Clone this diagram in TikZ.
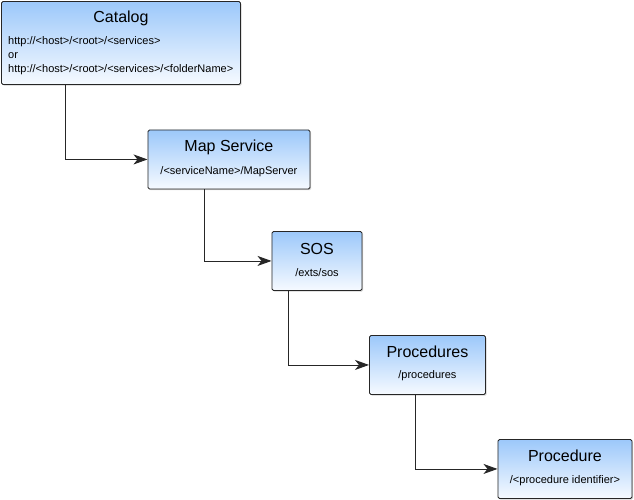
\documentclass[tikz,border=0pt]{standalone}
\usepackage{fontspec}
\setmainfont{Liberation Sans}
\usetikzlibrary{arrows.meta, shadows}
\definecolor{boxtop}{RGB}{156,200,250}
\definecolor{boxbottom}{RGB}{246,250,255}
\tikzset{
    resbox/.style={draw=black!85, line width=0.9pt, rounded corners=1.5pt,
        top color=boxtop, bottom color=boxbottom, anchor=north west,
        inner sep=0pt,
        drop shadow={shadow xshift=1.2pt, shadow yshift=-1.2pt,
            opacity=0.35}},
    restitle/.style={anchor=base, inner sep=0pt,
        font=\fontsize{16}{19}\selectfont},
    resurl/.style={anchor=base, inner sep=0pt,
        font=\fontsize{11}{14}\selectfont},
    hop/.style={draw=black!85, line width=0.9pt,
        -{Stealth[length=14pt, width=10pt, inset=4pt]}},
}

\begin{document}
\begin{tikzpicture}[x=1pt, y=-1pt]
    \useasboundingbox (0, 0) rectangle (634, 499);
    \node[resbox, minimum width=239pt, minimum height=83pt] (catalog)
        at (1, 1) {};
    \node[resbox, minimum width=162pt, minimum height=59pt] (mapsvc)
        at (147.5, 129.5) {};
    \node[resbox, minimum width=90pt, minimum height=59pt] (sos)
        at (271.5, 231) {};
    \node[resbox, minimum width=116pt, minimum height=59pt] (procs)
        at (369, 335) {};
    \node[resbox, minimum width=134pt, minimum height=59pt] (proc)
        at (497.5, 439) {};

    \node[restitle] (catalogtitle) at ([yshift=-21.5pt]catalog.north)
        {Catalog};
    \node[resurl, anchor=base west, align=left] (catalogurl)
        at ([xshift=7pt, yshift=-71.5pt]catalog.north west)
        {http://<host>/<root>/<services>\\or\\
        http://<host>/<root>/<services>/<folderName>};

    \node[restitle] (mapsvctitle) at ([yshift=-22pt]mapsvc.north)
        {Map Service};
    \node[resurl] (mapsvcurl) at ([yshift=-45pt]mapsvc.north)
        {/<serviceName>/MapServer};
    \node[restitle] (sostitle) at ([yshift=-23pt]sos.north) {SOS};
    \node[resurl] (sosurl) at ([yshift=-45pt]sos.north) {/exts/sos};
    \node[restitle] (procstitle) at ([yshift=-22.5pt]procs.north)
        {Procedures};
    \node[resurl] (procsurl) at ([yshift=-43.5pt]procs.north)
        {/procedures};
    \node[restitle] (proctitle) at ([yshift=-22pt]proc.north)
        {Procedure};
    \node[resurl] (procurl) at ([yshift=-44.5pt]proc.north)
        {/<procedure identifier>};

    \draw[hop] ([xshift=64.5pt]catalog.south west) |- (mapsvc.west);
    \draw[hop] ([xshift=57pt]mapsvc.south west) |- (sos.west);
    \draw[hop] ([xshift=17pt]sos.south west) |- (procs.west);
    \draw[hop] ([xshift=46.5pt]procs.south west) |- (proc.west);
\end{tikzpicture}
\end{document}
